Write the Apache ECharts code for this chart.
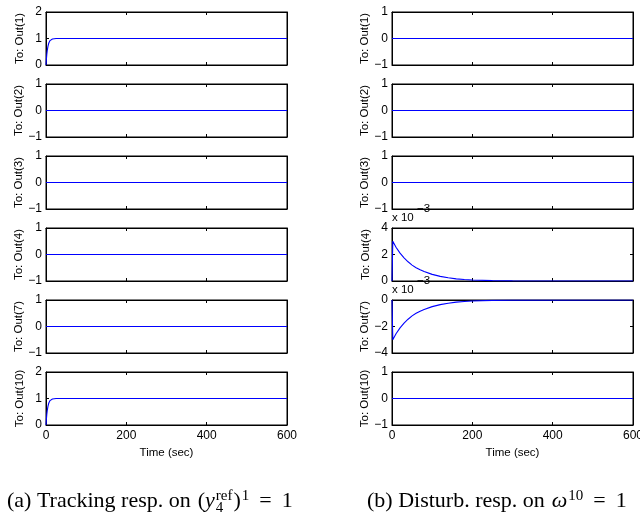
<!DOCTYPE html>
<html>
<head>
<meta charset="utf-8">
<script src="https://cdn.jsdelivr.net/npm/echarts@6/dist/echarts.min.js"></script>
<style>
html, body { margin: 0; padding: 0; background: #fff; }
#chart { width: 640px; height: 517px; }
</style>
</head>
<body>
<div id="chart"></div>
<script>
// time axis
const timeMin = 0;
const timeMax = 600;
const timeStep = 200;

// (a) tracking response, Out(1) and Out(10)
const trackT = [0, 1, 2, 3, 4, 5, 6, 7, 8, 10, 12, 14, 16, 20, 25, 30, 600];
const trackY = [0, 0.22, 0.40, 0.53, 0.63, 0.71, 0.78, 0.83, 0.86, 0.92, 0.95, 0.97, 0.98, 0.99, 1, 1, 1];

// outputs that stay at zero
const flatT = [0, 600];
const flatY = [0, 0];

// (b) disturbance response, values in units of 1e-3
const distT = [0, 2, 10, 20, 30, 40, 50, 60, 70, 80, 100, 120, 140, 160, 180, 200, 250, 300, 600];
const out4Y = [0, 3.0, 2.55, 2.1, 1.75, 1.45, 1.2, 1.0, 0.85, 0.72, 0.5, 0.35, 0.24, 0.16, 0.11, 0.07, 0.03, 0.01, 0];
const out7Y = [0, -3.0, -2.55, -2.1, -1.75, -1.45, -1.2, -1.0, -0.85, -0.72, -0.5, -0.35, -0.24, -0.16, -0.11, -0.07, -0.03, -0.01, 0];

const panelNames = ['To: Out(1)', 'To: Out(2)', 'To: Out(3)', 'To: Out(4)', 'To: Out(7)', 'To: Out(10)'];
const leftRanges = [[0, 2], [-1, 1], [-1, 1], [-1, 1], [-1, 1], [0, 2]];
const rightRanges = [[-1, 1], [-1, 1], [-1, 1], [0, 4], [-4, 0], [-1, 1]];
const leftSteps = [1, 1, 1, 1, 1, 1];
const rightSteps = [1, 1, 1, 2, 2, 1];

function zip(t, y) { return t.map((v, i) => [v, y[i]]); }

const track = zip(trackT, trackY);
const flat = zip(flatT, flatY);
const leftData = [track, flat, flat, flat, flat, track];
const rightData = [flat, flat, flat, zip(distT, out4Y), zip(distT, out7Y), flat];

const font = '"Liberation Sans", Arial, sans-serif';
const serif = '"Liberation Serif", "Times New Roman", serif';

const grids = [], xAxes = [], yAxes = [], series = [];

[0, 1].forEach(function (c) {
  const ranges = c ? rightRanges : leftRanges;
  const steps = c ? rightSteps : leftSteps;
  const data = c ? rightData : leftData;
  for (let r = 0; r < 6; r++) {
    const g = grids.length;
    const last = r === 5;
    grids.push({
      left: c ? 392 : 46, top: 12 + r * 72, width: 241, height: 53,
      outerBoundsMode: 'none', containLabel: false,
      show: true, borderColor: '#000', borderWidth: 1
    });
    const xBase = {
      type: 'value', gridIndex: g, min: timeMin, max: timeMax, interval: timeStep,
      axisLine: { show: true, onZero: false, lineStyle: { color: '#000', width: 1 } },
      axisTick: { show: true, inside: true, length: 3, lineStyle: { color: '#000' } },
      splitLine: { show: false }
    };
    xAxes.push(Object.assign({}, xBase, {
      position: 'bottom',
      axisLabel: { show: last, color: '#000', fontSize: 12, fontFamily: font, margin: 5 },
      name: last ? 'Time (sec)' : '',
      nameLocation: 'middle', nameGap: 22,
      nameTextStyle: { color: '#000', fontSize: 11.5, fontFamily: font }
    }));
    xAxes.push(Object.assign({}, xBase, { position: 'top', axisLabel: { show: false } }));
    const yBase = {
      type: 'value', gridIndex: g, min: ranges[r][0], max: ranges[r][1], interval: steps[r],
      axisLine: { show: true, onZero: false, lineStyle: { color: '#000', width: 1 } },
      axisTick: { show: true, inside: true, length: 3, lineStyle: { color: '#000' } },
      splitLine: { show: false }
    };
    yAxes.push(Object.assign({}, yBase, {
      position: 'left',
      axisLabel: {
        color: '#000', fontSize: 12, fontFamily: font, margin: 4,
        formatter: function (v) { return String(v).replace('-', '\u2212'); }
      },
      name: panelNames[r], nameLocation: 'middle', nameRotate: 90, nameGap: 20,
      nameTextStyle: { color: '#000', fontSize: 11.5, fontFamily: font }
    }));
    yAxes.push(Object.assign({}, yBase, { position: 'right', axisLabel: { show: false } }));
    series.push({
      type: 'line', xAxisIndex: g * 2, yAxisIndex: g * 2, data: data[r],
      showSymbol: false, smooth: false, clip: true,
      lineStyle: { color: '#0000ff', width: 1.1 }
    });
  }
});

// captions: pieces laid out one after another
const measureCtx = document.createElement('canvas').getContext('2d');
function textRun(pieces, x0, midY) {
  const out = [];
  let x = x0;
  pieces.forEach(function (p) {
    const f = (p.italic ? 'italic ' : '') + p.size + 'px ' + serif;
    measureCtx.font = f;
    x += p.gap || 0;
    out.push({
      type: 'text', x: x, y: midY + (p.dy || 0),
      style: { text: p.text, font: f, fill: '#000', textVerticalAlign: 'middle', verticalAlign: 'middle' }
    });
    if (!p.stack) x += measureCtx.measureText(p.text).width;
  });
  return out;
}

const captionA = textRun([
  { text: '(a) Tracking resp. on', size: 22 },
  { text: '(', size: 22, gap: 7 },
  { text: 'y', size: 22, italic: true },
  { text: '4', size: 15, dy: 7, gap: 1, stack: true },
  { text: 'ref', size: 15, dy: -5 },
  { text: ')', size: 22, gap: 1 },
  { text: '1', size: 15, dy: -5, gap: 1 },
  { text: '=', size: 22, gap: 10 },
  { text: '1', size: 22, gap: 10 }
], 7, 501);

const captionB = textRun([
  { text: '(b) Disturb. resp. on', size: 22 },
  { text: '\u03c9', size: 22, italic: true, gap: 7 },
  { text: '10', size: 15, dy: -5, gap: 1 },
  { text: '=', size: 22, gap: 10 },
  { text: '1', size: 22, gap: 10 }
], 367, 501);

function expLabel(x, y) {
  return [
    { type: 'text', x: x, y: y, style: { text: 'x 10', font: '11.5px ' + font, fill: '#000', textVerticalAlign: 'middle', verticalAlign: 'middle' } },
    { type: 'text', x: x + 25, y: y - 9, style: { text: '\u22123', font: '11.5px ' + font, fill: '#000', textVerticalAlign: 'middle', verticalAlign: 'middle' } }
  ];
}

const chart = echarts.init(document.getElementById('chart'), null, { renderer: 'canvas' });
chart.setOption({
  animation: false,
  backgroundColor: '#fff',
  grid: grids,
  xAxis: xAxes,
  yAxis: yAxes,
  series: series,
  graphic: captionA.concat(captionB, expLabel(392, 218), expLabel(392, 290))
});
</script>
</body>
</html>
